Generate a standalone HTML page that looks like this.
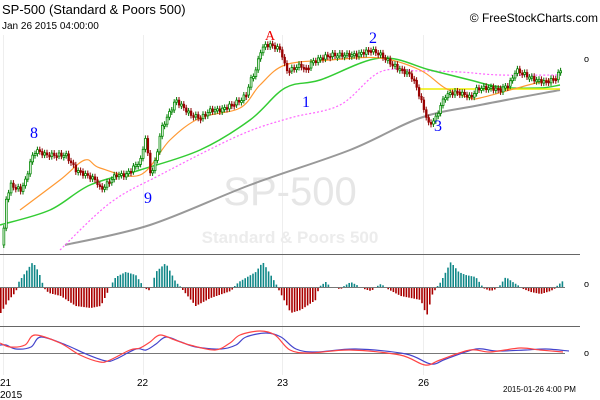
<!DOCTYPE html>
<html><head><meta charset="utf-8"><style>
body{margin:0;background:#fff;width:600px;height:400px;overflow:hidden}
svg{display:block}
.s{font-family:"Liberation Sans",sans-serif}
.r{font-family:"Liberation Serif",serif}
</style></head><body>
<svg id="s" width="600" height="400" xmlns="http://www.w3.org/2000/svg">
<rect width="600" height="400" fill="#fff"/>
<g stroke="#eee" stroke-width="1">
<line x1="3.5" y1="35" x2="3.5" y2="375"/><line x1="143.5" y1="35" x2="143.5" y2="375"/>
<line x1="282.5" y1="35" x2="282.5" y2="375"/><line x1="423.5" y1="35" x2="423.5" y2="375"/>
</g>
<text class="s" x="290" y="205" font-size="40" fill="#e6e6e6" text-anchor="middle">SP-500</text>
<text class="s" x="290" y="243" font-size="17" font-weight="bold" fill="#ececec" text-anchor="middle">Standard &amp; Poors 500</text>
<text class="s" x="2" y="14" font-size="13" fill="#000">SP-500 (Standard &amp; Poors 500)</text>
<text class="s" x="2" y="29" font-size="10" fill="#000">Jan 26 2015 04:00:00</text>
<text class="s" x="598" y="22" font-size="12" fill="#000" text-anchor="end">© FreeStockCharts.com</text>
<g id="main"></g>
<line x1="0" y1="254.5" x2="580" y2="254.5" stroke="#666"/>
<line x1="0" y1="326.5" x2="580" y2="326.5" stroke="#666"/>
<line x1="0" y1="287.5" x2="565" y2="287.5" stroke="#777"/>
<line x1="0" y1="353.5" x2="565" y2="353.5" stroke="#777"/>
<g id="hist"></g><g id="osc"></g>
<g class="s" font-size="9" fill="#000"><text x="584" y="62">o</text><text x="584" y="287">o</text><text x="584" y="356">o</text></g>
<g class="s" font-size="10" fill="#000"><text x="0" y="386">21</text><text x="137" y="386">22</text><text x="277" y="386">23</text><text x="418" y="386">26</text><text x="0" y="398">2015</text>
<text x="503" y="392" font-size="8">2015-01-26 4:00 PM</text></g>
<g class="r" font-size="16" fill="#00f"><text x="30" y="138">8</text><text x="144" y="203">9</text><text x="302" y="107">1</text><text x="369" y="43">2</text><text x="434" y="131">3</text></g>
<text class="r" x="265" y="40" font-size="14" fill="#e00">A</text>
</svg>
<script>
var NS="http://www.w3.org/2000/svg";
function el(p,t,a){var e=document.createElementNS(NS,t);for(var k in a)e.setAttribute(k,a[k]);p.appendChild(e);return e;}
function interp(pts,x){for(var i=0;i<pts.length-1;i++){if(x<=pts[i+1][0]){var a=pts[i],b=pts[i+1];return a[1]+(b[1]-a[1])*(x-a[0])/(b[0]-a[0]);}}return pts[pts.length-1][1];}
function poly(g,p,st,w,dash){var d="M"+p[0][0]+","+p[0][1];
for(var i=0;i<p.length-1;i++){var p0=p[i-1]||p[i],p1=p[i],p2=p[i+1],p3=p[i+2]||p2;
d+=" C"+(p1[0]+(p2[0]-p0[0])/6)+","+(p1[1]+(p2[1]-p0[1])/6)+" "+(p2[0]-(p3[0]-p1[0])/6)+","+(p2[1]-(p3[1]-p1[1])/6)+" "+p2[0]+","+p2[1];}
el(g,"path",{d:d,fill:"none",stroke:st,"stroke-width":w,"stroke-dasharray":dash||""});}
var M=document.getElementById("main");
poly(M,[[65,245],[150,225],[250,185],[350,150],[420,118],[480,105],[560,90]],"#999",2);
poly(M,[[60,250],[110,203],[160,175],[240,135],[290,118],[340,105],[380,72],[420,71],[460,72],[500,75],[560,75]],"#f6f",1.2,"2,2");
poly(M,[[0,225],[50,210],[90,185],[140,170],[200,150],[250,120],[285,88],[320,80],[380,58],[430,70],[470,80],[500,87],[540,88],[560,85]],"#3c3",1.5);
el(M,"line",{x1:420,y1:89,x2:560,y2:89,stroke:"#ee0","stroke-width":1.5});
poly(M,[[20,210],[60,180],[85,160],[100,168],[140,175],[170,140],[200,118],[240,108],[260,85],[285,65],[330,60],[380,58],[420,70],[445,88],[470,98],[480,98],[510,90],[540,82],[560,78]],"#f93",1.2);
var P=[[3,230],[5,200],[10,185],[20,190],[25,180],[30,160],[35,150],[45,155],[65,155],[75,170],[85,175],[95,180],[100,190],[105,185],[115,175],[125,175],[135,165],[140,160],[145,135],[148,165],[150,175],[155,160],[160,130],[170,110],[175,100],[180,105],[190,115],[200,118],[210,110],[220,110],[230,105],[240,100],[245,95],[250,80],[255,70],[260,50],[265,45],[270,45],[280,50],[285,70],[290,70],[300,65],[305,70],[310,63],[320,58],[330,55],[345,55],[355,55],[370,50],[380,55],[390,63],[400,70],[410,75],[415,85],[420,100],[425,115],[428,125],[435,118],[440,105],[445,95],[455,92],[465,95],[470,98],[475,90],[480,88],[490,88],[500,90],[510,82],[515,70],[525,75],[535,80],[545,82],[555,78],[560,70]];
var prev=interp(P,2);
for(var x=3;x<=561;x+=2.4){var c=interp(P,x)+Math.sin(x*1.7)*2;var up=c<prev;var t=Math.min(c,prev),h=Math.max(Math.abs(c-prev),2);
el(M,"line",{x1:x+0.8,y1:t-3,x2:x+0.8,y2:t+h+3,stroke:up?"#070":"#800","stroke-width":1});
el(M,"rect",{x:x,y:t,width:1.8,height:h,fill:up?"#fff":"#900",stroke:up?"#080":"#900","stroke-width":up?0.8:0.5});prev=c;}
var H=[[0,-25],[8,-12],[15,-4],[18,5],[25,15],[32,25],[38,15],[43,0],[48,-5],[60,-8],[75,-18],[90,-20],[100,-18],[108,-2],[115,10],[125,15],[135,12],[143,0],[150,-3],[155,15],[165,24],[175,5],[182,-2],[195,-18],[210,-10],[230,-3],[238,5],[255,15],[262,25],[270,12],[277,0],[290,-25],[300,-22],[315,-12],[318,0],[325,5],[330,0],[340,-1],[350,5],[360,0],[370,-3],[380,3],[385,0],[400,-8],[420,-12],[426,-28],[432,-5],[440,5],[450,25],[458,15],[465,12],[475,10],[482,0],[490,-3],[498,0],[505,10],[512,5],[520,0],[530,-4],[540,-6],[550,-3],[555,0],[562,6]];
var G=document.getElementById("hist");
for(var x=0;x<=563;x+=2.6){var v=interp(H,x);if(Math.abs(v)<0.6)continue;
el(G,"rect",{x:x,y:v>0?287-v:288,width:1.6,height:Math.abs(v),fill:v>0?"#188":"#a00"});}
var R=[[0,343],[10,347],[25,345],[35,335],[60,343],[80,355],[100,362],[110,360],[130,350],[140,348],[150,342],[160,335],[175,340],[190,345],[215,350],[230,343],[240,335],[260,331],[275,335],[290,350],[310,353],[350,350],[400,355],[425,365],[440,360],[470,350],[490,352],[520,348],[540,350],[563,352]];
var O=document.getElementById("osc");
var B=R.map(function(p){return [p[0]+6,p[1]+(p[1]<350?2:-1)]});B.unshift([0,345]);
poly(O,B,"#44c",1.2);poly(O,R,"#f44",1.2);
</script>
</body></html>
